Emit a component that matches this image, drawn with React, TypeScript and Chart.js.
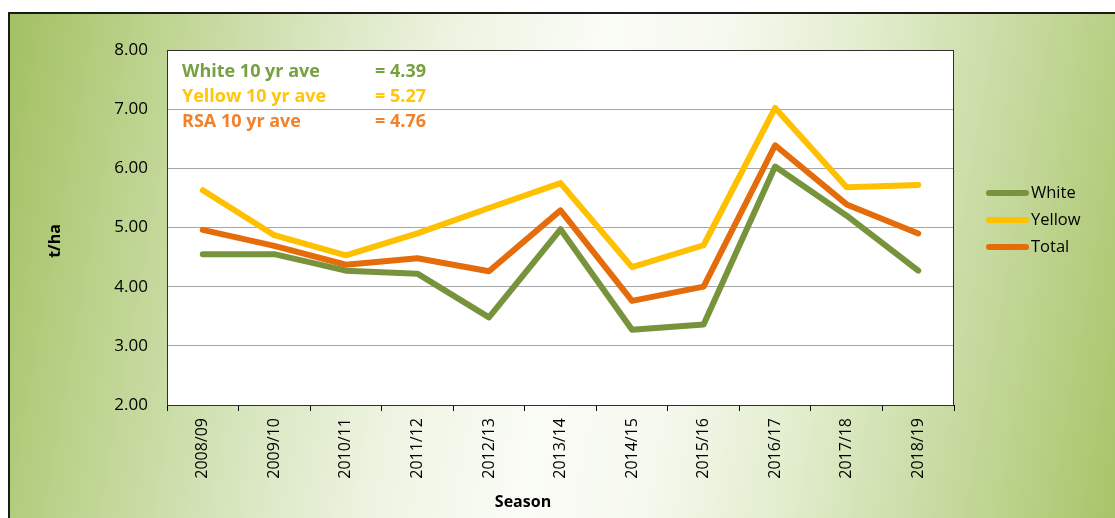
import React, { useEffect, useRef } from "react";
import { Chart, registerables } from "chart.js";

Chart.register(...registerables);

const categories = ["2008/09", "2009/10", "2010/11", "2011/12", "2012/13", "2013/14", "2014/15", "2015/16", "2016/17", "2017/18", "2018/19"];
const whiteValues = [4.55, 4.55, 4.27, 4.22, 3.48, 4.97, 3.27, 3.36, 6.03, 5.2, 4.27];
const yellowValues = [5.63, 4.87, 4.53, 4.9, 5.33, 5.75, 4.33, 4.7, 7.02, 5.68, 5.72];
const totalValues = [4.96, 4.69, 4.37, 4.48, 4.26, 5.29, 3.76, 4.0, 6.39, 5.39, 4.9];
const seriesNames = ["White", "Yellow", "Total"];
const averageLabels = ["White 10 yr ave", "Yellow 10 yr ave", "RSA 10 yr ave"];
const averageValues = ["= 4.39", "= 5.27", "= 4.76"];

const FONT = "'Open Sans', 'Liberation Sans', sans-serif";
const lineColors = ["#77933C", "#FFC000", "#E46C0A"];
const noteColors = ["#77A040", "#FFC60A", "#F0822D"];

const decorPlugin = {
  id: "decor",
  beforeDraw(chart: any) {
    const { ctx, chartArea } = chart;
    ctx.save();
    ctx.fillStyle = "#ffffff";
    ctx.fillRect(chartArea.left, chartArea.top, chartArea.right - chartArea.left, chartArea.bottom - chartArea.top);
    ctx.restore();
  },
  beforeDatasetsDraw(chart: any) {
    const { ctx, chartArea } = chart;
    ctx.save();
    ctx.strokeStyle = "#303030";
    ctx.lineWidth = 1;
    ctx.strokeRect(chartArea.left + 0.5, chartArea.top + 0.5, chartArea.right - chartArea.left - 1, chartArea.bottom - chartArea.top);
    ctx.restore();
  },
  afterDraw(chart: any) {
    const { ctx } = chart;
    ctx.save();
    ctx.font = `bold 18px ${FONT}`;
    ctx.textBaseline = "alphabetic";
    ctx.textAlign = "left";
    averageLabels.forEach((t, i) => {
      ctx.fillStyle = noteColors[i];
      ctx.fillText(t, 172, 63 + i * 25);
      ctx.fillText(averageValues[i], 365, 63 + i * 25);
    });
    ctx.font = `16.5px ${FONT}`;
    ctx.textBaseline = "middle";
    seriesNames.forEach((name, i) => {
      const y = 179 + i * 27;
      ctx.strokeStyle = lineColors[i];
      ctx.lineWidth = 6;
      ctx.lineCap = "round";
      ctx.beginPath();
      ctx.moveTo(979, y);
      ctx.lineTo(1016, y);
      ctx.stroke();
      ctx.fillStyle = "#000";
      ctx.fillText(name, 1021, y);
    });
    ctx.font = `bold 16px ${FONT}`;
    ctx.textAlign = "center";
    ctx.fillStyle = "#000";
    ctx.fillText("Season", 513, 488);
    ctx.translate(45, 227);
    ctx.rotate(-Math.PI / 2);
    ctx.fillText("t/ha", 0, 0);
    ctx.restore();
  },
};

export default function App() {
  const ref = useRef<HTMLCanvasElement>(null);
  useEffect(() => {
    if (!ref.current) return;
    const mk = (label: string, data: number[], color: string) => ({
      label,
      data,
      borderColor: color,
      backgroundColor: color,
      borderWidth: 6,
      borderJoinStyle: "round" as const,
      borderCapStyle: "round" as const,
      pointRadius: 0,
      tension: 0,
      fill: false,
    });
    const chart = new Chart(ref.current, {
      type: "line",
      data: {
        labels: categories,
        datasets: [
          mk(seriesNames[0], whiteValues, lineColors[0]),
          mk(seriesNames[1], yellowValues, lineColors[1]),
          mk(seriesNames[2], totalValues, lineColors[2]),
        ],
      },
      options: {
        animation: false,
        responsive: false,
        devicePixelRatio: 1,
        layout: { padding: { left: 0, top: 36, right: 161, bottom: 0 } },
        plugins: { legend: { display: false }, title: { display: false }, tooltip: { enabled: false } },
        scales: {
          x: {
            type: "category",
            offset: true,
            grid: { display: true, drawOnChartArea: false, drawTicks: true, tickLength: 6, color: "#000", offset: true },
            border: { display: true, color: "#000", width: 1 },
            ticks: { minRotation: 90, maxRotation: 90, autoSkip: false, padding: 7, color: "#000", font: { family: FONT, size: 16 } },
            afterFit: (s: any) => { s.height = 113; },
          },
          y: {
            min: 2,
            max: 8,
            ticks: { stepSize: 1, padding: 19, color: "#000", font: { family: FONT, size: 17 }, callback: (v: any) => Number(v).toFixed(2) },
            grid: { color: "#A6A6A6", drawTicks: false, lineWidth: 1 },
            border: { display: true, color: "#868686", width: 1 },
            afterFit: (s: any) => { s.width = 157; },
          },
        },
      },
      plugins: [decorPlugin],
    } as any);
    return () => chart.destroy();
  }, []);

  return (
    <div
      style={{
        position: "fixed",
        left: 8,
        top: 12,
        width: 1107,
        height: 506,
        boxSizing: "border-box",
        borderTop: "2px solid #1a1a1a",
        borderLeft: "2px solid #1a1a1a",
        background: "linear-gradient(100deg, #a3c062 0%, #bcd38d 12%, #d8e6bf 26%, #eef4e2 38%, #fafcf6 50%, #f6f9ef 60%, #e2edcd 72%, #c9dca4 84%, #a8c468 100%)",
      }}
    >
      <canvas ref={ref} width={1105} height={504} style={{ display: "block", width: 1105, height: 504 }} />
    </div>
  );
}
